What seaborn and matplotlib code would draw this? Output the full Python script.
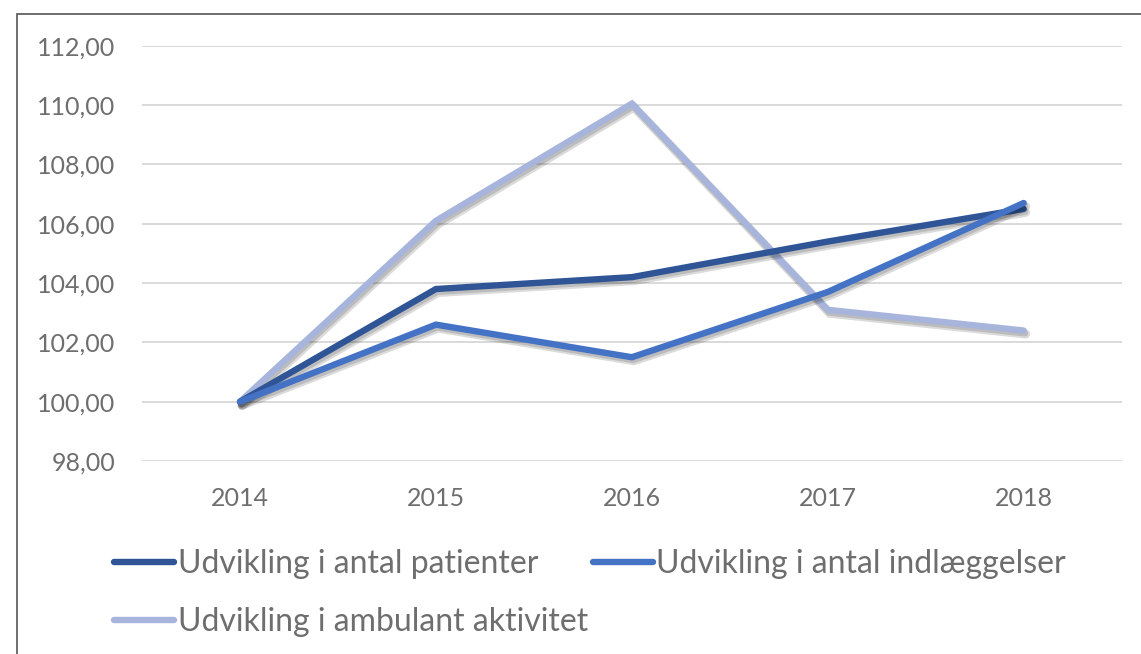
import matplotlib.pyplot as plt
import matplotlib.patheffects as pe
from matplotlib.patches import Rectangle
import seaborn as sns
import pandas as pd

years = ["2014", "2015", "2016", "2017", "2018"]
patienter = [100.0, 103.8, 104.2, 105.4, 106.5]
indlaeggelser = [100.0, 102.6, 101.5, 103.7, 106.7]
ambulant = [100.0, 106.1, 110.05, 103.1, 102.4]

series_names = ["Udvikling i antal patienter",
                "Udvikling i antal indlæggelser",
                "Udvikling i ambulant aktivitet"]
colors = ["#2F5597", "#4472C4", "#A7B5DC"]

# long format for seaborn
df = pd.concat([
    pd.DataFrame({"year": years, "value": vals, "series": name})
    for name, vals in zip(series_names, [patienter, indlaeggelser, ambulant])
])

sns.set_theme(style="white")
plt.rcParams['font.family'] = ['Lato', 'DejaVu Sans']

fig = plt.figure(figsize=(11.41, 6.54), dpi=100)
ax = fig.add_axes([0.1245, 0.295, 0.8585, 0.635])

# soft drop shadow under the lines
shadow = [pe.SimpleLineShadow(offset=(1.5, -2.5), shadow_color='black',
                              alpha=0.14, linewidth=6.5),
          pe.SimpleLineShadow(offset=(1, -2), shadow_color='black',
                              alpha=0.14),
          pe.Normal()]
# draw ambulant first so the blue lines sit on top
order = [2, 0, 1]
for i in order:
    sub = df[df["series"] == series_names[i]]
    sns.lineplot(data=sub, x="year", y="value", ax=ax, color=colors[i],
                 linewidth=4.6, solid_capstyle='round',
                 solid_joinstyle='miter', label=series_names[i],
                 path_effects=shadow, sort=False)

ax.set_ylim(98, 112)
ax.set_xlim(-0.5, 4.5)
ax.set_yticks([98, 100, 102, 104, 106, 108, 110, 112])
ax.set_yticklabels([f"{v},00" for v in [98, 100, 102, 104, 106, 108, 110,
                                        112]])
ax.yaxis.grid(True, color="#D9D9D9", linewidth=1.4)
ax.xaxis.grid(False)
for s in ax.spines.values():
    s.set_visible(False)
ax.tick_params(axis='both', length=0, labelsize=18, colors="#6E6E6E")
ax.tick_params(axis='y', pad=19)
ax.tick_params(axis='x', pad=19)
ax.set_xlabel("")
ax.set_ylabel("")

ax.get_legend().remove()
handles = [plt.Line2D([], [], color=c, linewidth=4.6, solid_capstyle='round')
           for c in colors]
leg_order = [0, 2, 1]
fig.legend([handles[i] for i in leg_order],
           [series_names[i] for i in leg_order],
           loc='upper left', bbox_to_anchor=(0.080, 0.195), ncol=2,
           frameon=False, fontsize=23, handlelength=1.9, handletextpad=0.1,
           columnspacing=0.15, labelspacing=0.88, labelcolor="#6E6E6E",
           borderpad=0.2)

# border of the chart box
fig.add_artist(Rectangle((17 / 1141, -0.1), 1.2, 1 - 14 / 654 + 0.1,
                         transform=fig.transFigure, fill=False,
                         edgecolor="#555555", linewidth=1.2, clip_on=False))

fig.savefig("out.png", dpi=100)
